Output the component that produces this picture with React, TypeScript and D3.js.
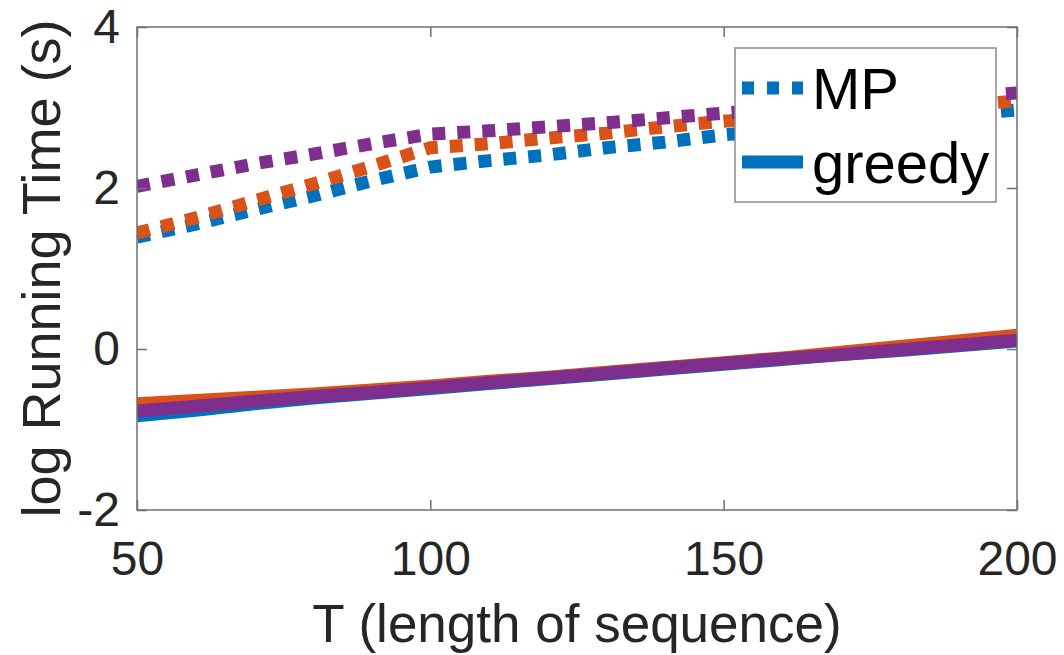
import { useEffect, useRef } from 'react';
import * as d3 from 'd3';

// T values (length of sequence)
const lengths = [50, 60, 70, 80, 90, 100, 110, 120, 130, 140, 150, 160, 170, 180, 190, 200];

// log running time, MP (dotted)
const mpBlue = [1.39, 1.55, 1.73, 1.9, 2.09, 2.26, 2.34, 2.41, 2.5, 2.57, 2.66, 2.72, 2.79, 2.85, 2.91, 2.97];
const mpOrange = [1.44, 1.63, 1.84, 2.05, 2.27, 2.5, 2.55, 2.62, 2.68, 2.76, 2.83, 2.88, 2.93, 2.98, 3.03, 3.08];
const mpPurple = [2.02, 2.16, 2.3, 2.42, 2.55, 2.67, 2.71, 2.76, 2.81, 2.87, 2.93, 2.98, 3.03, 3.08, 3.13, 3.18];

// log running time, greedy (solid)
const greedyBlue = [-0.83, -0.76, -0.68, -0.61, -0.55, -0.49, -0.43, -0.37, -0.31, -0.25, -0.19, -0.13, -0.07, -0.02, 0.04, 0.1];
const greedyOrange = [-0.68, -0.64, -0.6, -0.56, -0.51, -0.46, -0.4, -0.35, -0.29, -0.23, -0.17, -0.11, -0.04, 0.03, 0.1, 0.17];
const greedyPurple = [-0.77, -0.71, -0.65, -0.59, -0.54, -0.48, -0.42, -0.36, -0.3, -0.24, -0.18, -0.12, -0.07, -0.01, 0.05, 0.11];

const xTicks = [50, 100, 150, 200];
const yTicks = [-2, 0, 2, 4];
const legendLabels = ['MP', 'greedy'];

const blue = '#0072bd';
const orange = '#d95319';
const purple = '#7e2f8e';

const FONT = '"Liberation Sans", Arial, Helvetica, sans-serif';

export default function App() {
  const ref = useRef<SVGSVGElement | null>(null);

  useEffect(() => {
    const width = 1064;
    const height = 655;
    const margin = { top: 27, right: 47, bottom: 145, left: 137 };
    const innerWidth = width - margin.left - margin.right;
    const innerHeight = height - margin.top - margin.bottom;

    const svg = d3.select(ref.current);
    svg.selectAll('*').remove();
    svg.attr('viewBox', `0 0 ${width} ${height}`);

    svg
      .append('defs')
      .append('clipPath')
      .attr('id', 'plot-clip')
      .append('rect')
      .attr('width', innerWidth)
      .attr('height', innerHeight);

    const root = svg.append('g').attr('transform', `translate(${margin.left},${margin.top})`);

    const x = d3.scaleLinear().domain([50, 200]).range([0, innerWidth]);
    const y = d3.scaleLinear().domain([-2, 4]).range([innerHeight, 0]);

    const series = [
      { values: mpBlue, color: blue, dotted: true },
      { values: greedyBlue, color: blue, dotted: false },
      { values: mpOrange, color: orange, dotted: true },
      { values: greedyOrange, color: orange, dotted: false },
      { values: mpPurple, color: purple, dotted: true },
      { values: greedyPurple, color: purple, dotted: false },
    ];

    const line = d3
      .line<number>()
      .x((_, i) => x(lengths[i]))
      .y((v) => y(v));

    const lines = root.append('g').attr('clip-path', 'url(#plot-clip)');
    series.forEach((s) => {
      lines
        .append('path')
        .attr('d', line(s.values))
        .attr('fill', 'none')
        .attr('stroke', s.color)
        .attr('stroke-width', 13)
        .attr('stroke-linecap', 'butt')
        .attr('stroke-dasharray', s.dotted ? '13 12' : null);
    });

    const axisColor = '#707070';
    const tickColor = '#262626';

    const styleAxis = (axis: any) => {
      axis.selectAll('.domain').remove();
      axis.selectAll('line').attr('stroke', axisColor).attr('stroke-width', 1.5);
      axis
        .selectAll('text')
        .attr('fill', tickColor)
        .attr('font-family', FONT)
        .attr('font-size', 48);
    };

    root
      .append('g')
      .call(
        d3
          .axisLeft(y)
          .tickValues(yTicks)
          .tickSizeInner(-10)
          .tickSizeOuter(0)
          .tickPadding(17)
          .tickFormat((d) => String(d))
      )
      .call(styleAxis);

    root
      .append('g')
      .attr('transform', `translate(${innerWidth},0)`)
      .call(d3.axisRight(y).tickValues(yTicks).tickSizeInner(-10).tickSizeOuter(0).tickFormat(() => ''))
      .call(styleAxis);

    root
      .append('g')
      .attr('transform', `translate(0,${innerHeight})`)
      .call(
        d3
          .axisBottom(x)
          .tickValues(xTicks)
          .tickSizeInner(-10)
          .tickSizeOuter(0)
          .tickPadding(31)
          .tickFormat((d) => String(d))
      )
      .call(styleAxis);

    root
      .append('g')
      .call(d3.axisTop(x).tickValues(xTicks).tickSizeInner(-10).tickSizeOuter(0).tickFormat(() => ''))
      .call(styleAxis);

    root
      .append('rect')
      .attr('width', innerWidth)
      .attr('height', innerHeight)
      .attr('fill', 'none')
      .attr('stroke', axisColor)
      .attr('stroke-width', 1.5);

    // axis titles
    root
      .append('text')
      .attr('x', innerWidth / 2)
      .attr('y', 642 - margin.top)
      .attr('text-anchor', 'middle')
      .attr('font-family', FONT)
      .attr('font-size', 53)
      .attr('fill', tickColor)
      .text('T (length of sequence)');

    root
      .append('text')
      .attr('transform', `translate(${60 - margin.left},${innerHeight / 2}) rotate(-90)`)
      .attr('text-anchor', 'middle')
      .attr('font-family', FONT)
      .attr('font-size', 54)
      .attr('fill', tickColor)
      .text('log Running Time (s)');

    // legend
    const legend = svg.append('g').attr('transform', 'translate(735,48)');
    legend
      .append('rect')
      .attr('width', 261)
      .attr('height', 154)
      .attr('fill', '#ffffff')
      .attr('stroke', '#8a8a8a')
      .attr('stroke-width', 1.5);

    legendLabels.forEach((label, i) => {
      const cy = i === 0 ? 40 : 114;
      legend
        .append('line')
        .attr('x1', 7)
        .attr('x2', 68)
        .attr('y1', cy)
        .attr('y2', cy)
        .attr('stroke', blue)
        .attr('stroke-width', 13)
        .attr('stroke-dasharray', i === 0 ? '12 13' : null);
      legend
        .append('text')
        .attr('x', 77)
        .attr('y', cy + 21)
        .attr('font-family', FONT)
        .attr('font-size', 58)
        .attr('fill', '#000000')
        .text(label);
    });
  }, []);

  return (
    <svg
      ref={ref}
      width={1064}
      height={655}
      style={{ position: 'absolute', left: 0, top: 0, background: '#ffffff' }}
      role="img"
      aria-label="log running time versus T"
    />
  );
}
